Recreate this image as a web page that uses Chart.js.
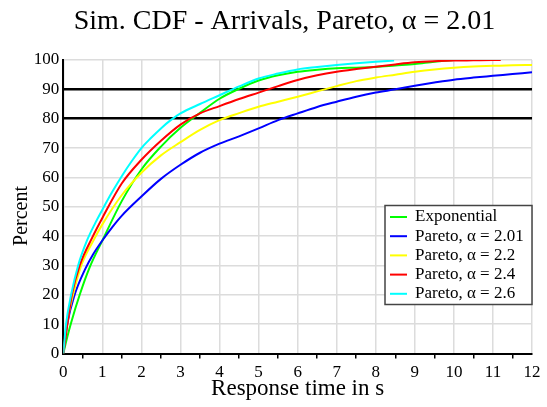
<!DOCTYPE html>
<html>
<head>
<meta charset="utf-8">
<script src="https://cdn.jsdelivr.net/npm/chart.js@4"></script>
<style>
  body { margin: 0; background: #fff; }
  #wrap { width: 547px; height: 407px; }
</style>
</head>
<body>
<div id="wrap"><canvas id="cdf" width="547" height="407"></canvas></div>
<script>
const chartTitle = 'Sim. CDF - Arrivals, Pareto, \u03b1 = 2.01';
const xTitle = 'Response time in s';
const yTitle = 'Percent';
const seriesNames = ['Exponential', 'Pareto, \u03b1 = 2.01', 'Pareto, \u03b1 = 2.2', 'Pareto, \u03b1 = 2.4', 'Pareto, \u03b1 = 2.6'];
const seriesColors = ['#00ff00', '#0000ff', '#ffff00', '#ff0000', '#00ffff'];
const xTickValues = [0, 1, 2, 3, 4, 5, 6, 7, 8, 9, 10, 11, 12];
const yTickValues = [0, 10, 20, 30, 40, 50, 60, 70, 80, 90, 100];
const refLines = [80, 90];

// response time (s) / percent
const expT = [0, 0.1, 0.2, 0.42, 0.68, 1, 1.5, 2, 2.5, 3, 3.5, 4, 4.5, 5, 5.5, 6, 6.5, 7, 7.5, 8, 8.5, 9, 9.5, 10];
const expP = [0, 5.5, 10.5, 20, 29.5, 38.5, 52, 62.7, 70.5, 76.9, 82, 86.8, 90.2, 93, 94.8, 96, 96.7, 97.2, 97.4, 97.6, 98.1, 98.6, 99.4, 100];

const p201T = [0, 0.1, 0.29, 0.55, 0.75, 1, 1.25, 1.5, 2, 2.5, 3, 3.5, 4, 4.5, 5, 5.5, 6, 6.5, 7, 7.5, 8, 8.5, 9, 9.5, 10, 10.5, 11, 11.5, 12];
const p201P = [0, 10, 20, 28.5, 33.5, 38.5, 43, 47, 53.5, 59.5, 64.3, 68.4, 71.5, 74, 76.7, 79.5, 81.8, 84, 85.8, 87.5, 88.9, 90, 91.2, 92.3, 93.3, 94, 94.6, 95.2, 95.8];

const p22T = [0, 0.09, 0.25, 0.46, 0.75, 1, 1.5, 2, 2.5, 3, 3.5, 4, 4.5, 5, 5.5, 6, 6.5, 7, 7.5, 8, 8.5, 9, 9.5, 10, 10.5, 11, 11.5, 12];
const p22P = [0, 10, 20, 30, 38, 44, 54, 61.6, 67.5, 72, 76.2, 79.5, 81.9, 84.1, 85.8, 87.5, 89.3, 91.1, 92.8, 94, 95, 96, 96.8, 97.4, 97.8, 98, 98.2, 98.3];

const p24T = [0, 0.1, 0.22, 0.42, 0.74, 1, 1.5, 2, 2.5, 3, 3.5, 4, 4.5, 5, 5.5, 6, 6.5, 7, 7.5, 8, 8.5, 9, 9.5, 10, 10.5, 11, 11.2];
const p24P = [0, 9.5, 20, 30, 39.5, 46.2, 58, 66, 72.5, 78, 81.8, 84.3, 86.7, 88.9, 91.1, 93.2, 94.8, 96, 96.9, 97.7, 98.5, 99.2, 99.6, 99.8, 99.9, 100, 100];

const p26T = [0, 0.07, 0.2, 0.38, 0.61, 0.82, 1, 1.25, 1.5, 1.75, 2, 2.25, 2.5, 2.75, 3, 3.5, 4, 4.5, 5, 5.5, 6, 6.5, 7, 7.5, 8, 8.47];
const p26P = [0, 10, 20, 30, 38.6, 44.5, 49, 55, 60.5, 65.5, 70, 73.5, 76.7, 79.5, 81.8, 85, 88, 91, 93.7, 95.4, 96.8, 97.6, 98.3, 98.9, 99.4, 99.8];

const seriesT = [expT, p201T, p22T, p24T, p26T];
const seriesP = [expP, p201P, p22P, p24P, p26P];

const serif = '"Liberation Serif", "Times New Roman", serif';

const datasets = seriesNames.map((name, i) => ({
    label: name,
    data: seriesT[i].map((t, j) => ({ x: t, y: seriesP[i][j] })),
    borderColor: seriesColors[i],
    backgroundColor: seriesColors[i],
    borderWidth: 2,
    pointRadius: 0,
    cubicInterpolationMode: 'monotone',
    fill: false,
    order: -i
}));

// titles drawn by hand so they sit where the original has them
const titles = {
    id: 'titles',
    afterDraw(chart) {
        const ctx = chart.ctx;
        ctx.save();
        ctx.fillStyle = '#000';
        ctx.textAlign = 'center';
        ctx.textBaseline = 'middle';
        ctx.font = '28px ' + serif;
        ctx.fillText(chartTitle, chart.width / 2 + 11, 22);
        ctx.font = '23px ' + serif;
        ctx.fillText(xTitle, (chart.chartArea.left + chart.chartArea.right) / 2, 389);
        ctx.translate(22, 216);
        ctx.rotate(-Math.PI / 2);
        ctx.font = '20px ' + serif;
        ctx.fillText(yTitle, 0, 0);
        ctx.restore();
    }
};

// boxed legend in the lower right of the plot
const boxLegend = {
    id: 'boxLegend',
    afterDatasetsDraw(chart) {
        const ctx = chart.ctx;
        const area = chart.chartArea;
        const w = 147, h = 99;
        const x0 = area.right - w, y0 = area.bottom - 148;
        ctx.save();
        ctx.fillStyle = '#fff';
        ctx.fillRect(x0, y0, w, h);
        ctx.strokeStyle = '#444';
        ctx.lineWidth = 1.5;
        ctx.strokeRect(x0, y0, w, h);
        ctx.font = '17px ' + serif;
        ctx.textBaseline = 'middle';
        ctx.textAlign = 'left';
        seriesNames.forEach((name, i) => {
            const y = y0 + 11.5 + i * 19.2;
            ctx.strokeStyle = seriesColors[i];
            ctx.lineWidth = 2;
            ctx.beginPath();
            ctx.moveTo(x0 + 5, y);
            ctx.lineTo(x0 + 22, y);
            ctx.stroke();
            ctx.fillStyle = '#000';
            ctx.fillText(name, x0 + 30, y);
        });
        ctx.restore();
    }
};

new Chart(document.getElementById('cdf').getContext('2d'), {
    type: 'line',
    data: { datasets: datasets },
    plugins: [titles, boxLegend],
    options: {
        responsive: false,
        animation: false,
        layout: { padding: { top: 60, right: 15, left: 0, bottom: 0 } },
        plugins: {
            legend: { display: false },
            title: { display: false },
            tooltip: { enabled: false }
        },
        scales: {
            x: {
                type: 'linear',
                min: 0,
                max: 12,
                afterFit: s => { s.height = 53.5; },
                border: { color: '#000', width: 2 },
                grid: {
                    color: c => (c.tick && c.tick.value % 1 === 0) ? '#dcdcdc' : 'rgba(0,0,0,0)',
                    tickColor: c => (c.tick && c.tick.value % 1 === 0) ? 'rgba(0,0,0,0)' : '#000',
                    lineWidth: 1.5,
                    tickWidth: 1.5,
                    tickLength: 5
                },
                ticks: {
                    stepSize: 0.5,
                    autoSkip: false,
                    maxRotation: 0,
                    padding: 4,
                    color: '#000',
                    font: { family: serif, size: 17 },
                    callback: v => xTickValues.includes(v) ? String(v) : ''
                }
            },
            y: {
                min: 0,
                max: 100,
                afterFit: s => { s.width = 63.3; },
                afterBuildTicks: s => { s.ticks = yTickValues.map(v => ({ value: v })); },
                border: { color: '#000', width: 2 },
                grid: {
                    color: c => refLines.includes(c.tick && c.tick.value) ? '#000' : '#dcdcdc',
                    lineWidth: c => refLines.includes(c.tick && c.tick.value) ? 2.5 : 1.5,
                    drawTicks: false
                },
                ticks: {
                    padding: 4,
                    color: '#000',
                    font: { family: serif, size: 17 }
                }
            }
        }
    }
});
</script>
</body>
</html>
